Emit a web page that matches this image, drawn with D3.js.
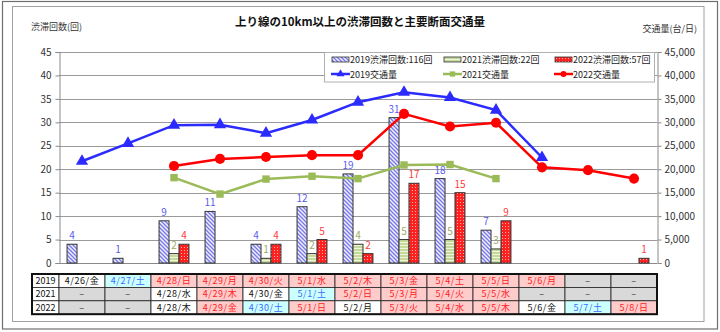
<!DOCTYPE html>
<html><head><meta charset="utf-8">
<script src="https://cdn.jsdelivr.net/npm/d3@7"></script>
<style>
html,body{margin:0;padding:0;background:#fff;}
svg{display:block;font-family:"Noto Sans CJK JP","Noto Sans",sans-serif;}
</style></head>
<body><svg id="c" width="720" height="332"></svg>
<script>
// ---- data ----
const categories = ["4/26","4/27","4/28","4/29","4/30","5/1","5/2","5/3","5/4","5/5","5/6","5/7","5/8"];
const jam2019 = [4,1,9,11,4,12,19,31,18,7,null,null,null];
const jam2021 = [null,null,2,null,1,2,4,5,5,3,null,null,null];
const jam2022 = [null,null,4,null,4,5,2,17,15,9,null,null,1];
const traffic2019 = [21700,25500,29400,29500,27700,30500,34300,36400,35300,32600,22500,null,null];
const traffic2021 = [null,null,18200,14700,17900,18500,18000,20900,21000,18000,null,null,null];
const traffic2022 = [null,null,20700,22200,22600,23000,23000,31800,29100,29900,20400,19800,18000];
const leftTicks = [0,5,10,15,20,25,30,35,40,45];
const rightTicks = [0,5000,10000,15000,20000,25000,30000,35000,40000,45000];
const tableYears = ["2019","2021","2022"];
const table2019 = ["4/26/金","4/27/土","4/28/日","4/29/月","4/30/火","5/1/水","5/2/木","5/3/金","5/4/土","5/5/日","5/6/月","–","–"];
const table2021 = ["–","–","4/28/水","4/29/木","4/30/金","5/1/土","5/2/日","5/3/月","5/4/火","5/5/水","–","–","–"];
const table2022 = ["–","–","4/28/木","4/29/金","4/30/土","5/1/日","5/2/月","5/3/火","5/4/水","5/5/木","5/6/金","5/7/土","5/8/日"];
// day type: w=weekday, s=saturday, h=holiday/sunday, n=none
const type2019 = ["w","s","h","h","h","h","h","h","h","h","h","n","n"];
const type2021 = ["n","n","w","h","w","s","h","h","h","h","n","n","n"];
const type2022 = ["n","n","w","h","s","h","w","h","h","h","w","s","h"];
const title = "上り線の10km以上の渋滞回数と主要断面交通量";
const leftTitle = "渋滞回数(回)";
const rightTitle = "交通量(台/日)";
const barSeries = [
  {name:"2019渋滞回数:116回", key:"2019", values: jam2019},
  {name:"2021渋滞回数:22回", key:"2021", values: jam2021},
  {name:"2022渋滞回数:57回", key:"2022", values: jam2022}
];
const lineSeries = [
  {name:"2019交通量", key:"2019", values: traffic2019},
  {name:"2021交通量", key:"2021", values: traffic2021},
  {name:"2022交通量", key:"2022", values: traffic2022}
];

// ---- layout ----
const svg = d3.select("#c");
const L = 59, R = 657, T = 52, B = 263;
const x = d3.scaleBand().domain(d3.range(categories.length)).range([L, R]).padding(0);
const bw = x.bandwidth();
const xs = d3.scaleBand().domain(["2019","2021","2022"]).range([bw*0.175, bw*0.825]).padding(0);
const y = d3.scaleLinear().domain([0,45]).range([B, T]);
const yR = d3.scaleLinear().domain([0,45000]).range([B, T]);

const lineColor = {"2019":"#2b2bff","2021":"#9bbb59","2022":"#ff0000"};
const labelColor = {"2019":"#5a5af0","2021":"#9aad5e","2022":"#ff3a3a"};

// frames
svg.append("rect").attr("x",2.5).attr("y",1.5).attr("width",715).attr("height",327.5)
  .attr("fill","#fff").attr("stroke","#6e6e6e").attr("stroke-width",1.2);
svg.append("rect").attr("x",12.5).attr("y",6.5).attr("width",691.5).attr("height",315)
  .attr("fill","#fff").attr("stroke","#a0a0a0").attr("stroke-width",1);

// patterns
const defs = svg.append("defs");
const p1 = defs.append("pattern").attr("id","p2019").attr("patternUnits","userSpaceOnUse")
  .attr("width",4).attr("height",4);
p1.append("rect").attr("width",4).attr("height",4).attr("fill","#eeeeff");
p1.append("path").attr("d","M-1,-1 L5,5 M-1,3 L1,5 M3,-1 L5,1").attr("stroke","#7777e6").attr("stroke-width",1.3);
const p2 = defs.append("pattern").attr("id","p2021").attr("patternUnits","userSpaceOnUse")
  .attr("width",4).attr("height",3);
p2.append("rect").attr("width",4).attr("height",3).attr("fill","#c5d99c");
p2.append("rect").attr("y",2).attr("width",4).attr("height",1).attr("fill","#eef5dc");
const p3 = defs.append("pattern").attr("id","p2022").attr("patternUnits","userSpaceOnUse")
  .attr("width",3).attr("height",3);
p3.append("rect").attr("width",3).attr("height",3).attr("fill","#ff2020");
p3.append("rect").attr("x",1).attr("y",1).attr("width",1).attr("height",1).attr("fill","#ffb0b0");

// gridlines
svg.append("g").selectAll("line").data(leftTicks.filter(d=>d>0)).join("line")
  .attr("x1",L).attr("x2",R).attr("y1",d=>Math.round(y(d))+0.5).attr("y2",d=>Math.round(y(d))+0.5)
  .attr("stroke","#9a9a9a").attr("stroke-width",1);

// axes
const axL = svg.append("g").attr("transform",`translate(${L+0.5},0)`)
  .call(d3.axisLeft(y).tickValues(leftTicks).tickSize(4).tickPadding(4).tickFormat(d3.format("d")));
const axR = svg.append("g").attr("transform",`translate(${R+0.5},0)`)
  .call(d3.axisRight(yR).tickValues(rightTicks).tickSize(4).tickPadding(3).tickFormat(d3.format(",")));
[axL,axR].forEach(a=>{
  a.select(".domain").attr("stroke","#8a8a8a");
  a.selectAll(".tick line").attr("stroke","#8a8a8a");
  a.selectAll(".tick text").attr("fill","#333").attr("font-size","10px")
   .attr("font-family","'Noto Sans CJK JP',sans-serif");
});
svg.append("line").attr("x1",L).attr("x2",R).attr("y1",B+0.5).attr("y2",B+0.5).attr("stroke","#8a8a8a");

// bars
barSeries.forEach(s=>{
  const g = svg.append("g");
  const pts = s.values.map((v,i)=>({v,i})).filter(d=>d.v!=null);
  g.selectAll("rect").data(pts).join("rect")
    .attr("x",d=>x(d.i)+xs(s.key)).attr("width",xs.bandwidth())
    .attr("y",d=>y(d.v)).attr("height",d=>B-y(d.v))
    .attr("fill",`url(#p${s.key})`).attr("stroke","#333").attr("stroke-width",1);
  g.selectAll("text").data(pts).join("text")
    .attr("x",d=>x(d.i)+xs(s.key)+xs.bandwidth()/2).attr("y",d=>y(d.v)-5)
    .attr("text-anchor","middle").attr("font-size","10px").attr("fill",labelColor[s.key])
    .text(d=>d.v);
});

// lines
const symType = {"2019":d3.symbolTriangle,"2021":d3.symbolSquare,"2022":d3.symbolCircle};
const symSize = {"2019":65,"2021":55,"2022":80};
lineSeries.forEach(s=>{
  const pts = s.values.map((v,i)=>({v,i})).filter(d=>d.v!=null);
  svg.append("path").datum(pts)
    .attr("d",d3.line().x(d=>x(d.i)+bw/2).y(d=>yR(d.v)))
    .attr("fill","none").attr("stroke",lineColor[s.key]).attr("stroke-width",2.5);
  svg.append("g").selectAll("path").data(pts).join("path")
    .attr("transform",d=>`translate(${x(d.i)+bw/2},${yR(d.v)})`)
    .attr("d",d3.symbol().type(symType[s.key]).size(symSize[s.key]))
    .attr("fill",lineColor[s.key]);
});

// titles
svg.append("text").attr("x",360).attr("y",26).attr("text-anchor","middle")
  .attr("font-size","11.5px").attr("font-weight","bold").attr("fill","#111").text(title);
svg.append("text").attr("x",31).attr("y",30).attr("font-size","9px").attr("fill","#333").text(leftTitle);
svg.append("text").attr("x",697).attr("y",32).attr("text-anchor","end").attr("font-size","9px").attr("fill","#333").text(rightTitle);

// legend
const lg = svg.append("g");
lg.append("rect").attr("x",324.5).attr("y",52.5).attr("width",330).attr("height",29.5)
  .attr("fill","#fff").attr("stroke","#b0b0b0");
const colX = [331, 443, 554];
barSeries.forEach((s,k)=>{
  lg.append("rect").attr("x",colX[k]+1).attr("y",57).attr("width",17).attr("height",5)
    .attr("fill",`url(#p${s.key})`).attr("stroke","#333").attr("stroke-width",0.8);
  lg.append("text").attr("x",colX[k]+19).attr("y",63).attr("font-size","9px").attr("fill","#222").text(s.name);
});
lineSeries.forEach((s,k)=>{
  lg.append("line").attr("x1",colX[k]).attr("x2",colX[k]+19).attr("y1",74).attr("y2",74)
    .attr("stroke",lineColor[s.key]).attr("stroke-width",2.5);
  lg.append("path").attr("transform",`translate(${colX[k]+9.5},74)`)
    .attr("d",d3.symbol().type(symType[s.key]).size(28)).attr("fill",lineColor[s.key]);
  lg.append("text").attr("x",colX[k]+19).attr("y",77.5).attr("font-size","9px").attr("fill","#222").text(s.name);
});

// table
const rows = [table2019, table2021, table2022];
const types = [type2019, type2021, type2022];
const tTop = 274, rh = 13.4, hx = 32;
const cellFill = {w:"#ffffff", s:"#ccffff", h:"#ffcccc", n:"#d9d9d9"};
const textFill = {w:"#111", s:"#3b6cff", h:"#ff1a1a", n:"#333"};
const tg = svg.append("g");
rows.forEach((row,r)=>{
  const yy = tTop + r*rh;
  tg.append("rect").attr("x",hx).attr("y",yy).attr("width",L-hx).attr("height",rh)
    .attr("fill","#fff").attr("stroke","#222").attr("stroke-width",0.8);
  tg.append("text").attr("x",(hx+L)/2).attr("y",yy+rh/2+3.3).attr("text-anchor","middle")
    .attr("font-size","9px").attr("fill","#111").text(tableYears[r]);
  row.forEach((c,i)=>{
    const t = types[r][i];
    tg.append("rect").attr("x",x(i)).attr("y",yy).attr("width",bw).attr("height",rh)
      .attr("fill",cellFill[t]).attr("stroke","#222").attr("stroke-width",0.8);
    tg.append("text").attr("x",x(i)+bw/2).attr("y",yy+rh/2+3.3).attr("text-anchor","middle")
      .attr("font-size","9px").attr("letter-spacing","0.6px").attr("fill",textFill[t]).text(c);
  });
});
tg.append("rect").attr("x",hx).attr("y",tTop).attr("width",R-hx).attr("height",rh*3)
  .attr("fill","none").attr("stroke","#111").attr("stroke-width",2);
</script></body></html>
